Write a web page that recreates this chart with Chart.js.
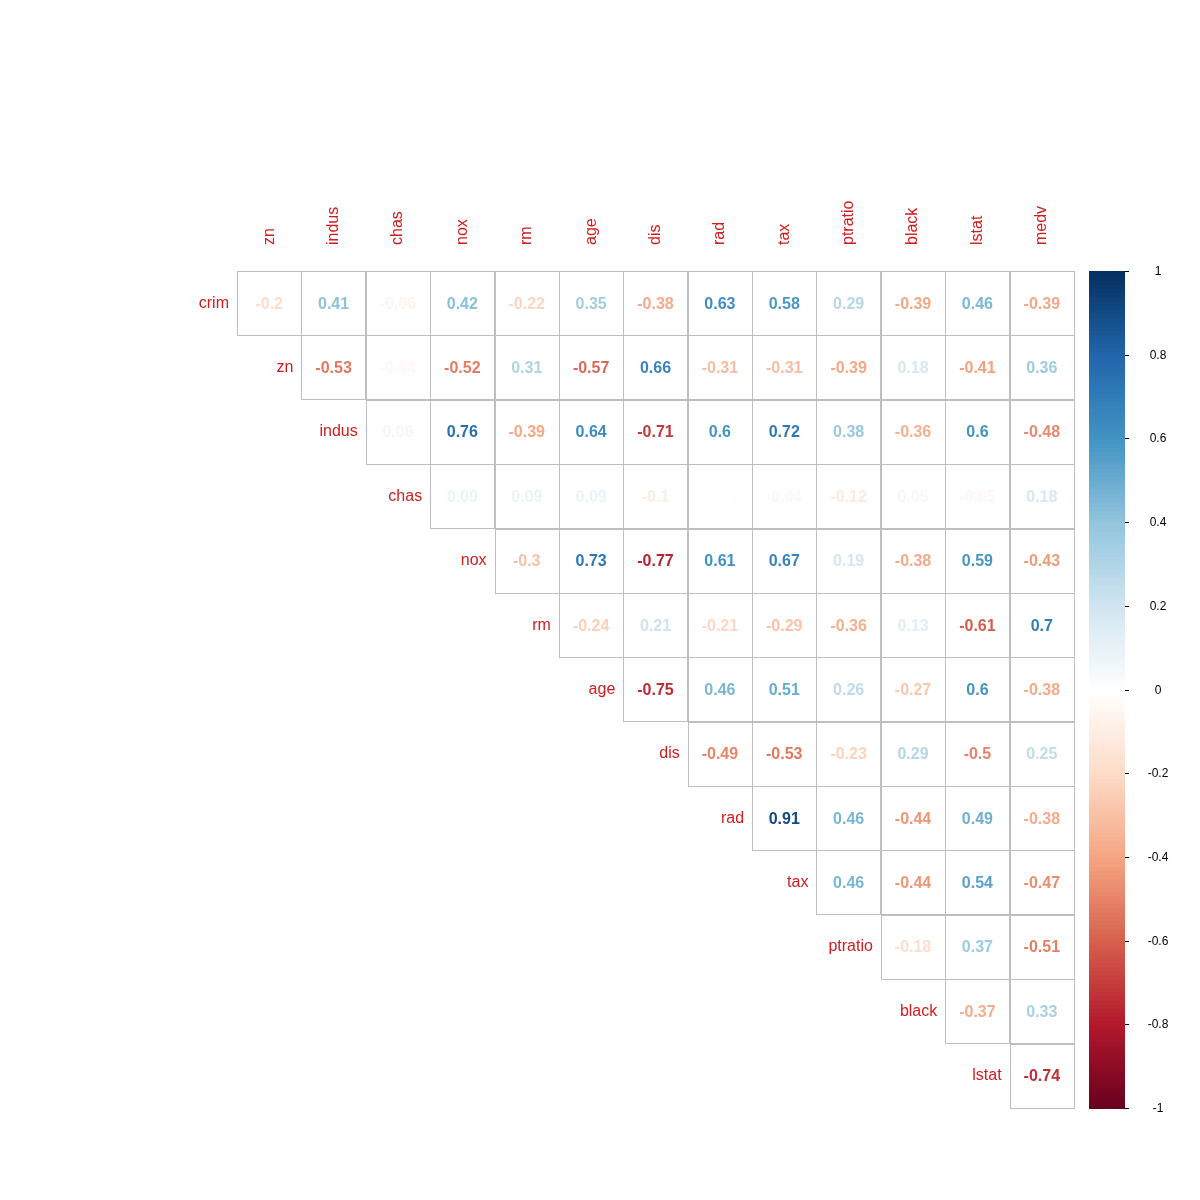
<!DOCTYPE html>
<html>
<head>
<meta charset="utf-8">
<script src="https://cdn.jsdelivr.net/npm/chart.js@4/dist/chart.umd.min.js"></script>
<style>
  html, body { margin: 0; padding: 0; background: #fff; }
  #wrap { width: 1200px; height: 1200px; }
</style>
</head>
<body>
<div id="wrap"><canvas id="corr"></canvas></div>
<script>
// Row and column variables
const rowNames = ['crim', 'zn', 'indus', 'chas', 'nox', 'rm', 'age', 'dis', 'rad', 'tax', 'ptratio', 'black', 'lstat'];
const colNames = ['zn', 'indus', 'chas', 'nox', 'rm', 'age', 'dis', 'rad', 'tax', 'ptratio', 'black', 'lstat', 'medv'];

// Upper triangle values, row by row (row r starts at column r)
const crimRow    = [-0.2, 0.41, -0.06, 0.42, -0.22, 0.35, -0.38, 0.63, 0.58, 0.29, -0.39, 0.46, -0.39];
const znRow      = [-0.53, -0.04, -0.52, 0.31, -0.57, 0.66, -0.31, -0.31, -0.39, 0.18, -0.41, 0.36];
const indusRow   = [0.06, 0.76, -0.39, 0.64, -0.71, 0.6, 0.72, 0.38, -0.36, 0.6, -0.48];
const chasRow    = [0.09, 0.09, 0.09, -0.1, -0.01, -0.04, -0.12, 0.05, -0.05, 0.18];
const noxRow     = [-0.3, 0.73, -0.77, 0.61, 0.67, 0.19, -0.38, 0.59, -0.43];
const rmRow      = [-0.24, 0.21, -0.21, -0.29, -0.36, 0.13, -0.61, 0.7];
const ageRow     = [-0.75, 0.46, 0.51, 0.26, -0.27, 0.6, -0.38];
const disRow     = [-0.49, -0.53, -0.23, 0.29, -0.5, 0.25];
const radRow     = [0.91, 0.46, -0.44, 0.49, -0.38];
const taxRow     = [0.46, -0.44, 0.54, -0.47];
const ptratioRow = [-0.18, 0.37, -0.51];
const blackRow   = [-0.37, 0.33];
const lstatRow   = [-0.74];
const allRows = [crimRow, znRow, indusRow, chasRow, noxRow, rmRow, ageRow, disRow, radRow, taxRow, ptratioRow, blackRow, lstatRow];

// Colour bar ticks
const barTicks = [1, 0.8, 0.6, 0.4, 0.2, 0, -0.2, -0.4, -0.6, -0.8, -1];

// RdBu palette, from -1 to 1
const palette = ['#67001F', '#B2182B', '#D6604D', '#F4A582', '#FDDBC7', '#FFFFFF', '#D1E5F0', '#92C5DE', '#4393C3', '#2166AC', '#053061'];

function hexToRgb(h) {
    return [parseInt(h.slice(1, 3), 16), parseInt(h.slice(3, 5), 16), parseInt(h.slice(5, 7), 16)];
}
function colorFor(v) {
    let t = (v + 1) / 2 * (palette.length - 1);
    let i = Math.min(Math.floor(t), palette.length - 2);
    let f = t - i;
    let a = hexToRgb(palette[i]), b = hexToRgb(palette[i + 1]);
    let c = a.map((x, k) => Math.round(x + (b[k] - x) * f));
    return 'rgb(' + c.join(',') + ')';
}

// Build points
const points = [];
allRows.forEach((vals, r) => {
    vals.forEach((v, k) => {
        points.push({ x: r + k + 0.5, y: r + 0.5, v: v });
    });
});

const labelRed = '#d01c1c';

const corrPlugin = {
    id: 'corrCells',
    afterDatasetsDraw(chart) {
        const ctx = chart.ctx;
        const xs = chart.scales.x, ys = chart.scales.y, cb = chart.scales.cb;
        ctx.save();
        // cells
        points.forEach(p => {
            const x0 = xs.getPixelForValue(p.x - 0.5), x1 = xs.getPixelForValue(p.x + 0.5);
            const y0 = ys.getPixelForValue(p.y - 0.5), y1 = ys.getPixelForValue(p.y + 0.5);
            ctx.strokeStyle = '#bebebe';
            ctx.lineWidth = 1;
            ctx.strokeRect(Math.round(x0) + 0.5, Math.round(y0) + 0.5, Math.round(x1 - x0), Math.round(y1 - y0));
            ctx.fillStyle = colorFor(p.v);
            ctx.font = 'bold 16px Arial, "Liberation Sans", sans-serif';
            ctx.textAlign = 'center';
            ctx.textBaseline = 'middle';
            ctx.fillText(String(p.v), (x0 + x1) / 2, (y0 + y1) / 2 + 1);
        });
        // row labels
        ctx.fillStyle = labelRed;
        ctx.font = '16px Arial, "Liberation Sans", sans-serif';
        ctx.textAlign = 'right';
        ctx.textBaseline = 'middle';
        rowNames.forEach((n, r) => {
            ctx.fillText(n, xs.getPixelForValue(r) - 8, ys.getPixelForValue(r + 0.5));
        });
        // column labels, rotated
        colNames.forEach((n, c) => {
            ctx.save();
            ctx.translate(xs.getPixelForValue(c + 0.5), ys.getPixelForValue(0) - 26);
            ctx.rotate(-Math.PI / 2);
            ctx.textAlign = 'left';
            ctx.textBaseline = 'middle';
            ctx.fillText(n, 0, 0);
            ctx.restore();
        });
        // colour bar
        const bx0 = 1089, bx1 = 1125;
        const steps = 200;
        for (let i = 0; i < steps; i++) {
            const va = -1 + 2 * i / steps, vb = -1 + 2 * (i + 1) / steps;
            const ya = cb.getPixelForValue(va), yb = cb.getPixelForValue(vb);
            ctx.fillStyle = colorFor((va + vb) / 2);
            ctx.fillRect(bx0, Math.floor(yb), bx1 - bx0, Math.ceil(ya - yb) + 1);
        }
        ctx.fillStyle = '#000';
        ctx.strokeStyle = '#000';
        ctx.font = '12px Arial, "Liberation Sans", sans-serif';
        ctx.textAlign = 'center';
        barTicks.forEach(t => {
            const y = Math.round(cb.getPixelForValue(t)) + 0.5;
            ctx.beginPath();
            ctx.moveTo(bx1, y);
            ctx.lineTo(bx1 + 4, y);
            ctx.stroke();
            ctx.fillText(String(t), 1158, y);
        });
        ctx.restore();
    }
};

new Chart(document.getElementById('corr').getContext('2d'), {
    type: 'scatter',
    data: {
        datasets: [{ data: points, pointRadius: 0, pointHoverRadius: 0 }]
    },
    options: {
        responsive: true,
        maintainAspectRatio: false,
        animation: false,
        events: [],
        layout: { padding: { left: 237, right: 126, top: 271, bottom: 92 } },
        plugins: { legend: { display: false }, tooltip: { enabled: false } },
        scales: {
            x: { type: 'linear', min: 0, max: 13, display: false },
            y: { type: 'linear', min: 0, max: 13, reverse: true, display: false },
            cb: { type: 'linear', min: -1, max: 1, display: false, axis: 'y' }
        }
    },
    plugins: [corrPlugin]
});
</script>
</body>
</html>
